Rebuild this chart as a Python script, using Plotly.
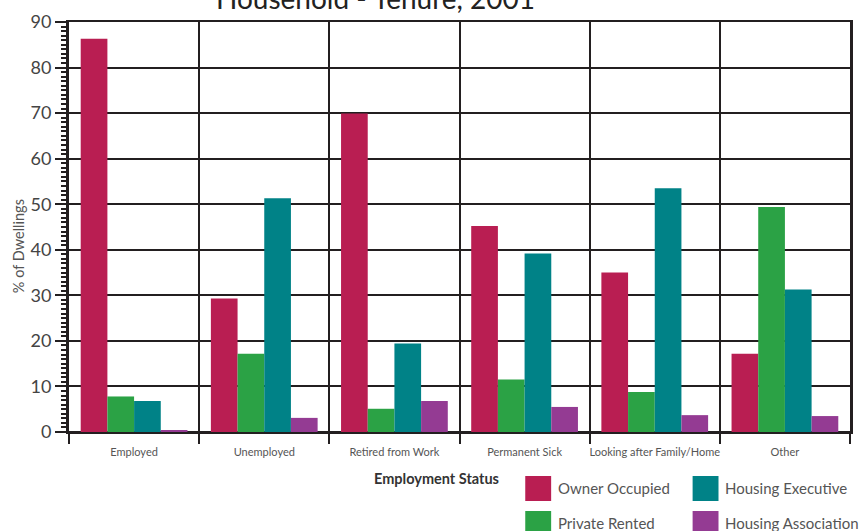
import plotly.graph_objects as go

# Employment status of household reference person, by tenure (% of dwellings)
categories = ["Employed", "Unemployed", "Retired from Work", "Permanent Sick",
              "Looking after Family/Home", "Other"]
owner_occupied = [86.3, 29.3, 69.9, 45.2, 35.0, 17.2]
private_rented = [7.8, 17.2, 5.1, 11.5, 8.8, 49.4]
housing_executive = [6.8, 51.3, 19.4, 39.2, 53.5, 31.3]
housing_association = [0.4, 3.1, 6.8, 5.5, 3.7, 3.5]

series_names = ["Owner Occupied", "Private Rented", "Housing Executive", "Housing Association"]
series_values = [owner_occupied, private_rented, housing_executive, housing_association]
series_colors = ["#B91E52", "#2BA245", "#008287", "#943B93"]

y_ticks = list(range(0, 91, 10))

W, H = 863, 531
L, R, T, B = 69, 10, 22, 99
PW, PH = W - L - R, H - T - B

FONT = "Lato, 'Open Sans', sans-serif"
DARK = "#231F20"

fig = go.Figure()
for name, vals, col in zip(series_names, series_values, series_colors):
    fig.add_trace(go.Bar(x=categories, y=vals, name=name, marker_color=col,
                         marker_line_width=0, showlegend=False))


def px_x(px):
    return (px - L) / PW


def px_y(py):
    return 1 - (py - T) / PH


fig.update_layout(
    width=W, height=H,
    margin=dict(l=L, r=R, t=T, b=B),
    paper_bgcolor="white", plot_bgcolor="white",
    barmode="group", bargap=0.18, bargroupgap=0,
    font=dict(family=FONT, color="#444"),
    xaxis=dict(
        type="category", tickson="boundaries",
        showgrid=True, gridcolor=DARK, gridwidth=2,
        ticks="outside", ticklen=10, tickwidth=2, tickcolor=DARK,
        showline=True, linecolor=DARK, linewidth=2, mirror=True,
        tickangle=0, ticklabelstandoff=9,
        tickfont=dict(size=11, color="#555"),
    ),
    yaxis=dict(
        range=[0, 90], tickvals=y_ticks,
        showgrid=True, gridcolor=DARK, gridwidth=2,
        zeroline=True, zerolinecolor=DARK, zerolinewidth=3,
        ticks="outside", ticklen=11, tickwidth=2, tickcolor=DARK,
        showline=True, linecolor=DARK, linewidth=3, mirror=True,
        tickfont=dict(size=18, color="#444"),
        minor=dict(dtick=1, ticks="outside", ticklen=5, tickwidth=1.5,
                   tickcolor=DARK, showgrid=False),
    ),
)

annotations = [
    dict(text="Household - Tenure, 2001", x=px_x(377), y=px_y(17), xref="paper", yref="paper",
         xanchor="center", yanchor="bottom", showarrow=False,
         font=dict(size=28, color="#222", family=FONT)),
    dict(text="% of Dwellings", x=px_x(18), y=px_y(246), xref="paper", yref="paper",
         xanchor="center", yanchor="middle", textangle=-90, showarrow=False,
         font=dict(size=14.5, color="#555", family=FONT)),
    dict(text="<b>Employment Status</b>", x=px_x(438), y=px_y(478), xref="paper", yref="paper",
         xanchor="center", yanchor="middle", showarrow=False,
         font=dict(size=14.5, color="#333", family=FONT)),
]

# Legend: two columns of colour swatches with labels
legend_slots = {
    "Owner Occupied": (527, 476),
    "Housing Executive": (695, 476),
    "Private Rented": (527, 511),
    "Housing Association": (695, 511),
}
shapes = []
for name, col in zip(series_names, series_colors):
    sx, sy = legend_slots[name]
    shapes.append(dict(type="rect", xref="paper", yref="paper",
                       x0=px_x(sx), x1=px_x(sx + 26), y0=px_y(sy + 25), y1=px_y(sy),
                       fillcolor=col, line_width=0, layer="above"))
    annotations.append(dict(text=name, x=px_x(sx + 31), y=px_y(sy + 12), xref="paper", yref="paper",
                            xanchor="left", yanchor="middle", showarrow=False,
                            font=dict(size=15, color="#555", family=FONT)))

fig.update_layout(annotations=annotations, shapes=shapes)

fig.write_html("out.html")
